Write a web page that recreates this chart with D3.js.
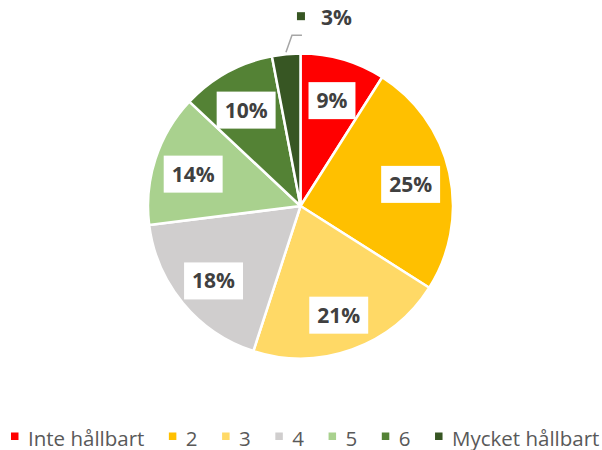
<!DOCTYPE html>
<html>
<head>
<meta charset="utf-8">
<script src="https://cdn.jsdelivr.net/npm/d3@7"></script>
<style>
  body { margin: 0; background: #fff; }
  svg { display: block; }
</style>
</head>
<body>
<div id="chart"></div>
<script>
// Data
var categories = ["Inte hållbart", "2", "3", "4", "5", "6", "Mycket hållbart"];
var values = [9, 25, 21, 18, 14, 10, 3];
var colors = ["#ff0000", "#ffc000", "#ffd966", "#d0cece", "#a9d18e", "#548235", "#375623"];

var width = 602, height = 450;
var cx = 300.5, cy = 206, radius = 152.5;

var svg = d3.select("#chart").append("svg")
    .attr("width", width)
    .attr("height", height);

var g = svg.append("g")
    .attr("transform", "translate(" + cx + "," + cy + ")");

var data = categories.map(function (c, i) {
    return { cat: c, value: values[i], color: colors[i] };
});

var pie = d3.pie().sort(null).value(function (d) { return d.value; });
var arcs = pie(data);
var total = d3.sum(values);
var fmt = function (v) { return Math.round(v / total * 100) + "%"; };

var arc = d3.arc().innerRadius(0).outerRadius(radius);
var labelArc = d3.arc().innerRadius(radius * 0.74).outerRadius(radius * 0.74);
var edgeArc = d3.arc().innerRadius(radius + 2).outerRadius(radius + 2);

// slices
g.selectAll("path.slice")
    .data(arcs)
    .enter().append("path")
    .attr("class", "slice")
    .attr("d", arc)
    .attr("fill", function (d) { return d.data.color; })
    .attr("stroke", "#fff")
    .attr("stroke-width", 2.5)
    .attr("stroke-linejoin", "round");

// inside labels with white boxes
var inside = arcs.filter(function (d) { return d.data.value >= 5; });
var labels = g.selectAll("g.lbl")
    .data(inside)
    .enter().append("g")
    .attr("class", "lbl")
    .attr("transform", function (d) {
        var c = labelArc.centroid(d);
        return "translate(" + c[0] + "," + (c[1] + 3) + ")";
    });

labels.append("rect").attr("fill", "#fff");
labels.append("text")
    .attr("text-anchor", "middle")
    .attr("dy", "0.36em")
    .style("font-family", "'Open Sans', sans-serif")
    .style("font-weight", 700)
    .style("font-size", "21px")
    .attr("fill", "#404040")
    .text(function (d) { return fmt(d.data.value); });

labels.each(function () {
    var t = d3.select(this).select("text");
    var w = t.node().getComputedTextLength() + 16;
    d3.select(this).select("rect")
        .attr("x", -w / 2).attr("y", -18.5)
        .attr("width", w).attr("height", 37);
});

// outside label for small slice, with leader line and legend key
var outside = arcs.filter(function (d) { return d.data.value < 5; });
outside.forEach(function (d) {
    var p = edgeArc.centroid(d);
    var elbow = [p[0] + 6, p[1] - 17];
    var end = [elbow[0] + 10, elbow[1]];
    g.append("polyline")
        .attr("points", [p, elbow, end].map(function (q) { return q.join(","); }).join(" "))
        .attr("fill", "none")
        .attr("stroke", "#a6a6a6")
        .attr("stroke-width", 1.5);
    g.append("rect")
        .attr("x", end[0] - 5).attr("y", end[1] - 23)
        .attr("width", 8).attr("height", 8)
        .attr("fill", d.data.color);
    g.append("text")
        .attr("x", end[0] + 19).attr("y", end[1] - 18)
        .attr("dy", "0.36em")
        .style("font-family", "'Open Sans', sans-serif")
        .style("font-weight", 700)
        .style("font-size", "21px")
        .attr("fill", "#404040")
        .text(fmt(d.data.value));
});

// legend
var legend = svg.append("g").attr("class", "legend");
var items = legend.selectAll("g.item")
    .data(data)
    .enter().append("g")
    .attr("class", "item");

items.append("rect")
    .attr("y", 432.5)
    .attr("width", 7.5).attr("height", 7.5)
    .attr("fill", function (d) { return d.color; });

items.append("text")
    .attr("x", 17)
    .attr("y", 445.5)
    .style("font-family", "'Open Sans', sans-serif")
    .style("font-size", "20.5px")
    .attr("fill", "#595959")
    .text(function (d) { return d.cat; });

var xPos = 0, gap = 24.5;
items.each(function () {
    d3.select(this).attr("transform", "translate(" + xPos + ",0)");
    xPos += 17 + d3.select(this).select("text").node().getComputedTextLength() + gap;
});
var legendW = xPos - gap;
legend.attr("transform", "translate(" + (305.2 - legendW / 2) + ",0)");
</script>
</body>
</html>
